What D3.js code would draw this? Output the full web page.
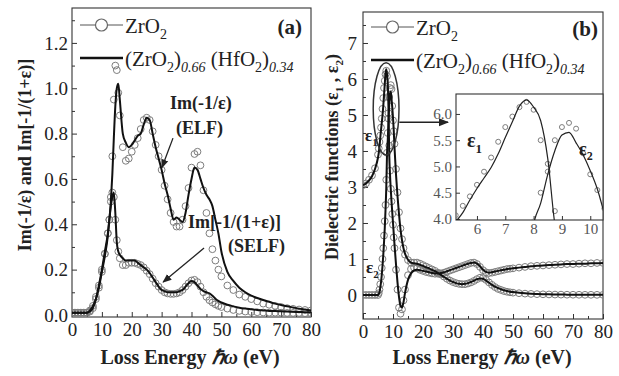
<!DOCTYPE html>
<html>
<head>
<meta charset="utf-8">
<script src="https://cdn.jsdelivr.net/npm/d3@7"></script>
<style>
body { margin: 0; background: #fff; }
text { font-family: "Liberation Serif", "Times New Roman", serif; }
</style>
</head>
<body>
<div id="chart-area"></div>
<script>
/*
*    ZrO2 / (ZrO2)0.66(HfO2)0.34 loss functions and dielectric functions
*/

// ---- panel (a) data : loss energy (eV) and loss functions ----
const energyA = [0,1,2,3,4,5,6,7,8,9,10,11,12,12.5,13,13.5,14,14.5,15,15.5,16,
    17,18,19,20,21,22,23,24,25,26,27,28,29,30,31,32,33,34,35,36,37,38,39,40,41,42,43,44,45,46,47,48,49,50,
    52,54,56,58,60,62,64,66,68,70,72,74,76,78,80];

const elfZrO2 = [0.01,0.01,0.01,0.01,0.01,0.01,
    0.02,0.04,0.08,0.13,0.2,0.27,0.36,
    0.42,0.52,0.7,0.95,1.1,1.08,0.98,0.88,
    0.74,0.68,0.69,0.72,0.75,0.78,0.82,0.86,0.87,0.86,
    0.81,0.75,0.7,0.64,0.57,0.51,0.45,0.41,0.39,0.39,
    0.42,0.48,0.56,0.65,0.71,0.72,0.66,0.55,0.45,0.36,
    0.29,0.24,0.2,0.17,
    0.13,0.11,0.09,0.08,0.07,0.06,0.05,0.045,0.04,0.035,0.03,0.027,0.024,0.022,0.02];

const elfAlloy = [0.01,0.01,0.01,0.01,0.01,0.01,
    0.02,0.04,0.07,0.12,0.19,0.26,0.35,
    0.42,0.5,0.62,0.78,0.92,1.0,1.02,0.95,
    0.8,0.76,0.74,0.75,0.77,0.79,0.8,0.84,0.87,0.86,
    0.8,0.74,0.69,0.64,0.58,0.53,0.47,0.42,0.43,0.42,
    0.41,0.45,0.53,0.6,0.65,0.64,0.6,0.56,0.53,0.51,
    0.48,0.42,0.36,0.28,
    0.19,0.15,0.12,0.1,0.085,0.075,0.066,0.058,0.05,0.044,0.038,0.033,0.028,0.024,0.02];

const selfZrO2 = [0.01,0.01,0.01,0.01,0.01,0.01,
    0.015,0.03,0.07,0.12,0.19,0.27,0.36,
    0.42,0.5,0.54,0.52,0.42,0.33,0.28,0.25,
    0.22,0.22,0.23,0.23,0.23,0.225,0.22,0.21,0.195,0.18,
    0.16,0.14,0.125,0.11,0.1,0.095,0.093,0.093,0.095,0.1,
    0.11,0.125,0.14,0.152,0.155,0.145,0.125,0.1,0.08,0.065,
    0.055,0.047,0.04,0.035,
    0.028,0.022,0.018,0.015,0.013,0.012,0.011,0.01,0.01,0.01,0.009,0.009,0.009,0.008,0.008];

const selfAlloy = [0.01,0.01,0.01,0.01,0.01,0.01,
    0.015,0.03,0.07,0.13,0.2,0.28,0.36,
    0.42,0.48,0.52,0.54,0.45,0.32,0.28,0.265,
    0.25,0.24,0.24,0.24,0.24,0.23,0.22,0.21,0.2,0.185,
    0.165,0.145,0.125,0.11,0.105,0.1,0.1,0.1,0.1,0.105,
    0.11,0.125,0.14,0.15,0.145,0.13,0.115,0.105,0.1,0.095,
    0.085,0.072,0.062,0.055,
    0.045,0.038,0.032,0.028,0.025,0.022,0.02,0.018,0.017,0.016,0.015,0.014,0.013,0.012,0.012];

// ---- panel (b) data : loss energy (eV) and dielectric functions ----
const energyB = [0,1,2,3,4,
    5,5.25,5.5,5.75,6,6.25,6.5,6.75,7,7.25,7.5,7.75,8,8.25,8.5,8.75,9,9.25,9.5,9.75,10,10.25,10.5,
    11,11.5,12,12.5,13,13.5,14,
    15,16,17,18,19,20,21,22,23,24,25,26,27,28,29,30,31,32,33,34,35,36,37,38,39,40,41,42,43,44,45,46,47,48,49,50,
    52,54,56,58,60,62,64,66,68,70,72,74,76,78,80];

const eps1ZrO2 = [3.05,3.1,3.2,3.32,3.52,
    3.9,4.07,4.25,4.43,4.65,4.9,5.17,5.47,5.75,5.95,6.13,6.23,6.08,5.5,4.9,4.15,3.45,2.95,2.6,2.25,1.95,1.6,1.3,
    0.7,0.15,-0.35,-0.52,-0.4,-0.15,0.15,
    0.55,0.72,0.76,0.74,0.7,0.67,0.64,0.62,0.6,0.59,
    0.59,0.6,0.62,0.65,0.68,0.71,0.74,0.77,0.8,0.83,
    0.86,0.89,0.9,0.86,0.78,0.69,0.63,0.61,0.62,0.64,
    0.66,0.68,0.7,0.72,0.73,0.74,
    0.76,0.78,0.8,0.81,0.82,0.83,0.84,0.85,0.86,0.86,0.87,0.88,0.88,0.89,0.89];

const eps1Alloy = [3.05,3.1,3.18,3.3,3.5,
    3.82,3.95,4.12,4.36,4.58,4.78,4.98,5.24,5.55,5.85,6.15,6.27,6.13,5.87,5.15,3.9,3.35,2.95,2.6,2.3,2.0,1.7,1.4,
    0.85,0.35,-0.05,-0.3,-0.35,-0.2,0.05,
    0.42,0.6,0.68,0.7,0.69,0.67,0.65,0.63,0.61,0.6,
    0.6,0.61,0.63,0.66,0.69,0.72,0.75,0.78,0.81,0.84,
    0.87,0.89,0.9,0.87,0.8,0.7,0.64,0.62,0.63,0.65,
    0.67,0.69,0.7,0.72,0.73,0.74,
    0.76,0.78,0.8,0.81,0.82,0.83,0.84,0.85,0.86,0.86,0.87,0.87,0.88,0.88,0.89];

const eps2ZrO2 = [0,0,0,0,0,
    0,0.05,0.15,0.3,0.5,0.75,1.0,1.3,1.65,2.05,2.5,3.2,3.95,4.5,5.05,5.5,5.75,5.83,5.72,5.25,4.85,4.55,4.2,
    3.5,2.85,2.3,1.85,1.55,1.3,1.12,
    0.97,0.9,0.9,0.9,0.87,0.83,0.79,0.75,0.71,0.67,
    0.62,0.57,0.51,0.45,0.4,0.36,0.33,0.31,0.3,0.3,
    0.32,0.35,0.39,0.44,0.48,0.47,0.42,0.35,0.28,0.22,
    0.17,0.14,0.11,0.09,0.075,0.065,
    0.05,0.038,0.03,0.024,0.019,0.015,0.012,0.01,0.008,0.007,0.006,0.005,0.005,0.004,0.004];

const eps2Alloy = [0,0,0,0,0,
    0,0.02,0.08,0.2,0.35,0.55,0.8,1.1,1.45,1.85,2.35,2.95,3.9,4.3,4.85,5.3,5.6,5.65,5.45,5.22,4.92,4.57,4.1,
    3.35,2.75,2.25,1.82,1.52,1.3,1.15,
    0.98,0.9,0.88,0.87,0.84,0.81,0.77,0.74,0.7,0.66,
    0.61,0.56,0.5,0.45,0.4,0.36,0.33,0.31,0.3,0.31,
    0.33,0.36,0.4,0.44,0.46,0.45,0.4,0.34,0.28,0.23,
    0.19,0.16,0.13,0.11,0.09,0.08,
    0.06,0.045,0.035,0.028,0.022,0.018,0.015,0.012,0.01,0.008,0.007,0.006,0.006,0.005,0.005];

// tick values
const xTicks = [0,10,20,30,40,50,60,70,80];
const xMinor = [5,15,25,35,45,55,65,75];
const yTicksA = [0,0.2,0.4,0.6,0.8,1.0,1.2];
const yMinorA = [0.1,0.3,0.5,0.7,0.9,1.1,1.3];
const yTicksB = [0,1,2,3,4,5,6,7];
const yMinorB = [-0.5,0.5,1.5,2.5,3.5,4.5,5.5,6.5,7.5];
const xTicksInset = [6,7,8,9,10];
const yTicksInset = [4.0,4.5,5.0,5.5,6.0];

const width = 619;
const height = 376;

const svg = d3.select("#chart-area")
    .append("svg")
    .attr("width", width)
    .attr("height", height);

svg.append("rect")
    .attr("width", "100%")
    .attr("height", "100%")
    .attr("fill", "white");

const defs = svg.append("defs");
defs.append("marker")
    .attr("id", "arrow")
    .attr("viewBox", "0 0 10 10")
    .attr("refX", 9).attr("refY", 5)
    .attr("markerWidth", 7).attr("markerHeight", 7)
    .attr("orient", "auto")
    .append("path")
    .attr("d", "M0,1 L10,5 L0,9 Z")
    .attr("fill", "#222");

// Scales
const xA = d3.scaleLinear().domain([0, 80]).range([72, 311]);
const yA = d3.scaleLinear().domain([-0.009, 1.354]).range([317, 8]);
const xB = d3.scaleLinear().domain([0, 80]).range([363, 603]);
const yB = d3.scaleLinear().domain([-0.667, 7.861]).range([319, 12]);
const xI = d3.scaleLinear().domain([5.26, 10.45]).range([456, 603]);
const yI = d3.scaleLinear().domain([3.98, 6.38]).range([220, 94]);

const circleColor = "#7d7d7d";

// Draws a box with inward major / minor ticks
function frame(x, y, o) {
    const g = svg.append("g");
    const [x0, x1] = x.range();
    const [y1, y0] = y.range();

    const bottom = g.append("g")
        .attr("transform", "translate(0," + y1 + ")")
        .call(d3.axisBottom(x).tickValues(o.xTicks).tickSize(-o.major)
            .tickPadding(o.xPad).tickFormat(o.xFmt));
    g.append("g")
        .attr("transform", "translate(0," + y1 + ")")
        .call(d3.axisBottom(x).tickValues(o.xMinor).tickSize(-o.minor).tickFormat(""));

    const left = g.append("g")
        .attr("transform", "translate(" + x0 + ",0)")
        .call(d3.axisLeft(y).tickValues(o.yTicks).tickSize(-o.major)
            .tickPadding(o.yPad).tickFormat(o.yFmt));
    g.append("g")
        .attr("transform", "translate(" + x0 + ",0)")
        .call(d3.axisLeft(y).tickValues(o.yMinor).tickSize(-o.minor).tickFormat(""));

    g.selectAll(".domain").remove();
    g.selectAll(".tick line").attr("stroke", "#333");
    g.selectAll("text")
        .attr("font-family", "Liberation Serif, serif")
        .attr("font-size", o.fontSize)
        .attr("fill", o.color);

    g.append("rect")
        .attr("x", x0).attr("y", y0)
        .attr("width", x1 - x0).attr("height", y1 - y0)
        .attr("fill", "none")
        .attr("stroke", "#333")
        .attr("stroke-width", 1.1);
    return g;
}

// text with subscripts
function rich(sel, parts, subSize, shift) {
    let down = false;
    parts.forEach(p => {
        const t = sel.append("tspan").text(p.t);
        if (p.sub && !down) { t.attr("dy", shift); down = true; }
        else if (!p.sub && down) { t.attr("dy", -shift); down = false; }
        if (p.sub) t.attr("font-size", subSize);
        if (p.it) t.attr("font-style", "italic");
    });
    return sel;
}

function legend(x0, yTop) {
    const g = svg.append("g");
    g.append("line")
        .attr("x1", x0 + 8).attr("x2", x0 + 51)
        .attr("y1", yTop + 17).attr("y2", yTop + 17)
        .attr("stroke", "#555").attr("stroke-width", 1);
    g.append("circle")
        .attr("cx", x0 + 29.5).attr("cy", yTop + 17).attr("r", 6)
        .attr("fill", "white").attr("stroke", "#666").attr("stroke-width", 1.2);
    rich(g.append("text").attr("x", x0 + 53).attr("y", yTop + 25).attr("font-size", 21).attr("fill", "#222"),
        [{t: "ZrO"}, {t: "2", sub: true}], 14, 6);

    g.append("line")
        .attr("x1", x0 + 8).attr("x2", x0 + 51)
        .attr("y1", yTop + 50).attr("y2", yTop + 50)
        .attr("stroke", "#111").attr("stroke-width", 2.5);
    rich(g.append("text").attr("x", x0 + 53).attr("y", yTop + 58).attr("font-size", 21).attr("fill", "#222"),
        [{t: "(ZrO"}, {t: "2", sub: true}, {t: ")"}, {t: "0.66", sub: true, it: true},
         {t: " (HfO"}, {t: "2", sub: true}, {t: ")"}, {t: "0.34", sub: true, it: true}], 14, 6);
}

// ===================== panel (a) =====================
frame(xA, yA, {
    xTicks: xTicks, xMinor: xMinor, yTicks: yTicksA, yMinor: yMinorA,
    major: 5, minor: 3, xPad: 6, yPad: 4, fontSize: 19, color: "#222",
    xFmt: d3.format("d"), yFmt: d3.format(".1f")
});

const clipA = defs.append("clipPath").attr("id", "clipA").append("rect")
    .attr("x", 72).attr("y", 8).attr("width", 239).attr("height", 309);

const plotA = svg.append("g").attr("clip-path", "url(#clipA)");

[elfZrO2, selfZrO2].forEach(series => {
    plotA.append("g").selectAll("circle")
        .data(energyA)
        .enter().append("circle")
        .attr("cx", d => xA(d))
        .attr("cy", (d, i) => yA(series[i]))
        .attr("r", 3.4)
        .attr("fill", "none")
        .attr("stroke", circleColor)
        .attr("stroke-width", 1);
});

const lineA = series => d3.line()
    .x(d => xA(d))
    .y((d, i) => yA(series[i]))
    .curve(d3.curveMonotoneX)(energyA);

[elfAlloy, selfAlloy].forEach(series => {
    plotA.append("path")
        .attr("d", lineA(series))
        .attr("fill", "none")
        .attr("stroke", "#111")
        .attr("stroke-width", 2);
});

legend(72, 8);

svg.append("text")
    .attr("x", 302).attr("y", 34)
    .attr("text-anchor", "end")
    .attr("font-size", 21).attr("font-weight", "bold").attr("fill", "#222")
    .text("(a)");

// annotations (a)
const boldText = (x, y, s, size) => svg.append("text")
    .attr("x", x).attr("y", y)
    .attr("font-size", size).attr("font-weight", "bold").attr("fill", "#222")
    .text(s);

boldText(170, 109, "Im(-1/ε)", 18);
boldText(176, 134, "(ELF)", 18);
boldText(188, 228, "Im[-1/(1+ε)]", 18);
boldText(228, 252, "(SELF)", 18);

svg.append("line")
    .attr("x1", xA(33.8)).attr("y1", yA(0.78))
    .attr("x2", xA(30.1)).attr("y2", yA(0.65))
    .attr("stroke", "#222").attr("stroke-width", 1.3)
    .attr("marker-end", "url(#arrow)");
svg.append("line")
    .attr("x1", xA(44.2)).attr("y1", yA(0.295))
    .attr("x2", xA(30.5)).attr("y2", yA(0.145))
    .attr("stroke", "#222").attr("stroke-width", 1.3)
    .attr("marker-end", "url(#arrow)");

// axis titles (a)
rich(svg.append("text")
    .attr("x", 190).attr("y", 364)
    .attr("text-anchor", "middle")
    .attr("font-size", 20).attr("font-weight", "bold").attr("fill", "#222"),
    [{t: "Loss Energy "}, {t: "ℏω", it: true}, {t: " (eV)"}], 20, 0);

svg.append("text")
    .attr("transform", "translate(31,155) rotate(-90)")
    .attr("text-anchor", "middle")
    .attr("font-size", 18).attr("font-weight", "bold").attr("fill", "#222")
    .text("Im(-1/ε) and Im[-1/(1+ε)]");

// ===================== panel (b) =====================
frame(xB, yB, {
    xTicks: xTicks, xMinor: xMinor, yTicks: yTicksB, yMinor: yMinorB,
    major: 5, minor: 3, xPad: 6, yPad: 6, fontSize: 19, color: "#222",
    xFmt: d3.format("d"), yFmt: d3.format("d")
});

defs.append("clipPath").attr("id", "clipB").append("rect")
    .attr("x", 363).attr("y", 12).attr("width", 240).attr("height", 307);

const plotB = svg.append("g").attr("clip-path", "url(#clipB)");

[eps1ZrO2, eps2ZrO2].forEach(series => {
    plotB.append("g").selectAll("circle")
        .data(energyB)
        .enter().append("circle")
        .attr("cx", d => xB(d))
        .attr("cy", (d, i) => yB(series[i]))
        .attr("r", 3.4)
        .attr("fill", "none")
        .attr("stroke", circleColor)
        .attr("stroke-width", 1);
});

const lineB = (series, x, y) => d3.line()
    .x(d => x(d))
    .y((d, i) => y(series[i]))
    .curve(d3.curveMonotoneX)(energyB);

[eps1Alloy, eps2Alloy].forEach(series => {
    plotB.append("path")
        .attr("d", lineB(series, xB, yB))
        .attr("fill", "none")
        .attr("stroke", "#111")
        .attr("stroke-width", 2);
});

legend(363, 10);

svg.append("text")
    .attr("x", 598).attr("y", 36)
    .attr("text-anchor", "end")
    .attr("font-size", 21).attr("font-weight", "bold").attr("fill", "#222")
    .text("(b)");

// ellipse around the peaks and arrow to the inset
svg.append("ellipse")
    .attr("cx", xB(7.7)).attr("cy", yB(5.17))
    .attr("rx", xB(7.7 + 4.3) - xB(7.7))
    .attr("ry", yB(5.17 - 1.28) - yB(5.17))
    .attr("fill", "none")
    .attr("stroke", "#333")
    .attr("stroke-width", 1.5);

svg.append("line")
    .attr("x1", xB(12.1)).attr("y1", yB(4.8))
    .attr("x2", 448).attr("y2", yB(4.8))
    .attr("stroke", "#222").attr("stroke-width", 1.5)
    .attr("marker-end", "url(#arrow)");

rich(svg.append("text").attr("x", 365).attr("y", 141)
    .attr("font-size", 17).attr("font-weight", "bold").attr("fill", "#222"),
    [{t: "ε"}, {t: "1", sub: true}], 11, 5);
rich(svg.append("text").attr("x", 366).attr("y", 273)
    .attr("font-size", 17).attr("font-weight", "bold").attr("fill", "#222"),
    [{t: "ε"}, {t: "2", sub: true}], 11, 5);

// axis titles (b)
rich(svg.append("text")
    .attr("x", 482).attr("y", 364)
    .attr("text-anchor", "middle")
    .attr("font-size", 20).attr("font-weight", "bold").attr("fill", "#222"),
    [{t: "Loss Energy "}, {t: "ℏω", it: true}, {t: " (eV)"}], 20, 0);

rich(svg.append("text")
    .attr("transform", "translate(338,157) rotate(-90)")
    .attr("text-anchor", "middle")
    .attr("font-size", 18).attr("font-weight", "bold").attr("fill", "#222"),
    [{t: "Dielectric functions (ε"}, {t: "1", sub: true}, {t: " , ε"}, {t: "2", sub: true}, {t: ")"}], 11, 5);

// ===================== inset =====================
svg.append("rect")
    .attr("x", 456).attr("y", 94).attr("width", 147).attr("height", 126)
    .attr("fill", "white");

frame(xI, yI, {
    xTicks: xTicksInset, xMinor: [], yTicks: yTicksInset, yMinor: [],
    major: 4, minor: 2, xPad: 3, yPad: 4, fontSize: 15, color: "#555",
    xFmt: d3.format("d"), yFmt: d3.format(".1f")
});

defs.append("clipPath").attr("id", "clipI").append("rect")
    .attr("x", 456).attr("y", 94).attr("width", 147).attr("height", 126);

const plotI = svg.append("g").attr("clip-path", "url(#clipI)");

[eps1ZrO2, eps2ZrO2].forEach(series => {
    plotI.append("g").selectAll("circle")
        .data(energyB.filter((d, i) => series[i] >= 3.9 && d >= 5 && d <= 10.6))
        .enter().append("circle")
        .attr("cx", d => xI(d))
        .attr("cy", d => yI(series[energyB.indexOf(d)]))
        .attr("r", 2.5)
        .attr("fill", "none")
        .attr("stroke", circleColor)
        .attr("stroke-width", 1);
});

[eps1Alloy, eps2Alloy].forEach(series => {
    plotI.append("path")
        .attr("d", lineB(series, xI, yI))
        .attr("fill", "none")
        .attr("stroke", "#222")
        .attr("stroke-width", 1.2);
});

rich(svg.append("text").attr("x", 467).attr("y", 147)
    .attr("font-size", 20).attr("font-weight", "bold").attr("fill", "#222"),
    [{t: "ε"}, {t: "1", sub: true}], 13, 6);
rich(svg.append("text").attr("x", 579).attr("y", 155)
    .attr("font-size", 18).attr("font-weight", "bold").attr("fill", "#222"),
    [{t: "ε"}, {t: "2", sub: true}], 12, 5);
</script>
</body>
</html>
